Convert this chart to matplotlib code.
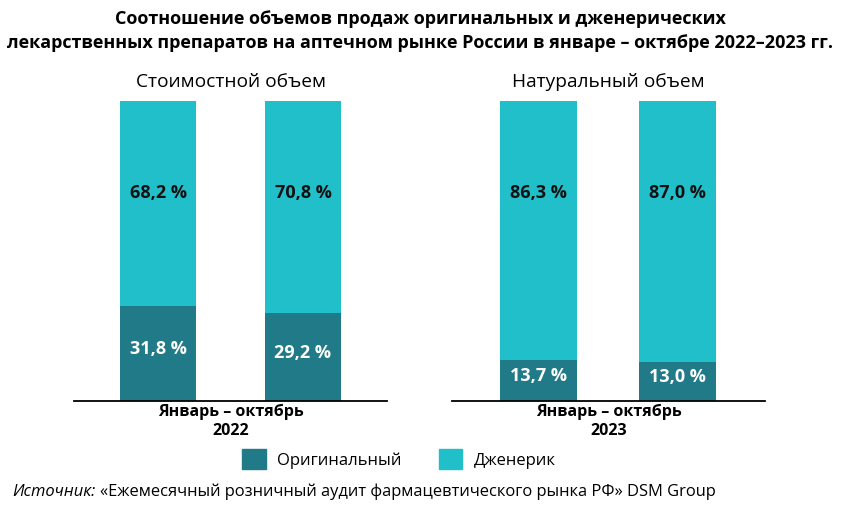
import matplotlib
matplotlib.use("Agg")
import matplotlib.pyplot as plt
from matplotlib.patches import Patch

plt.rcParams['font.family'] = ['Open Sans', 'DejaVu Sans']

# data
years = ["2022", "2023"]
panels = ["Стоимостной объем", "Натуральный объем"]
orig_cost = [31.8, 29.2]
gen_cost = [68.2, 70.8]
orig_vol = [13.7, 13.0]
gen_vol = [86.3, 87.0]
series_names = ["Оригинальный", "Дженерик"]

c_orig = "#217a87"
c_gen = "#21bfc9"

W, H = 842, 508
fig = plt.figure(figsize=(W / 100, H / 100), dpi=100)

def px(x, y):
    return x / W, 1 - y / H

fig.text(*px(420, 31), "Соотношение объемов продаж оригинальных и дженерических\n"
         "лекарственных препаратов на аптечном рынке России в январе – октябре 2022–2023 гг.",
         ha="center", va="center", fontsize=13, fontweight="bold", linespacing=1.4)

axes_left = [74, 452]
xlims = [(-0.58, 1.58), (-0.62, 1.63)]
bar_w = [0.53, 0.55]
data = [(orig_cost, gen_cost), (orig_vol, gen_vol)]

for i, (orig, gen) in enumerate(data):
    ax = fig.add_axes([axes_left[i] / W, (H - 401) / H, 313 / W, 300 / H])
    xs = [0, 1]
    ax.bar(xs, orig, bar_w[i], color=c_orig, zorder=2)
    ax.bar(xs, gen, bar_w[i], bottom=orig, color=c_gen, zorder=2)
    for x, o, g in zip(xs, orig, gen):
        ax.text(x, o / 2 + 1.5, f"{o:.1f} %".replace(".", ","), ha="center", va="center",
                color="white", fontsize=13, fontweight="bold")
        ax.text(x, 69.5, f"{g:.1f} %".replace(".", ","), ha="center", va="center",
                color="#111111", fontsize=13, fontweight="bold")
    ax.set_xlim(*xlims[i])
    ax.set_ylim(0, 100)
    ax.set_xticks([])
    ax.set_yticks([])
    for s in ["top", "left", "right"]:
        ax.spines[s].set_visible(False)
    ax.spines["bottom"].set_linewidth(1.3)
    ax.spines["bottom"].set_color("black")
    cx = axes_left[i] + 156.5
    fig.text(*px(cx, 82), panels[i], ha="center", va="center", fontsize=13.8)
    fig.text(*px(cx, 421), "Январь – октябрь\n" + years[i], ha="center", va="center",
             fontsize=11.5, fontweight="bold", linespacing=1.25)

handles = [Patch(color=c_orig), Patch(color=c_gen)]
fig.legend(handles, series_names, loc="center", bbox_to_anchor=px(399, 459), ncol=2,
           frameon=False, fontsize=12, handlelength=1.4, handleheight=1.4,
           handletextpad=0.7, columnspacing=2.2)

t1 = fig.text(*px(12, 492), "Источник:", ha="left", va="center", fontsize=11.9, style="italic")
r = fig.canvas.get_renderer()
bb = t1.get_window_extent(renderer=r)
fig.text((bb.x1 + 5) / W, 1 - 492 / H,
         "«Ежемесячный розничный аудит фармацевтического рынка РФ» DSM Group",
         ha="left", va="center", fontsize=11.9)

fig.savefig("out.png", dpi=100)
